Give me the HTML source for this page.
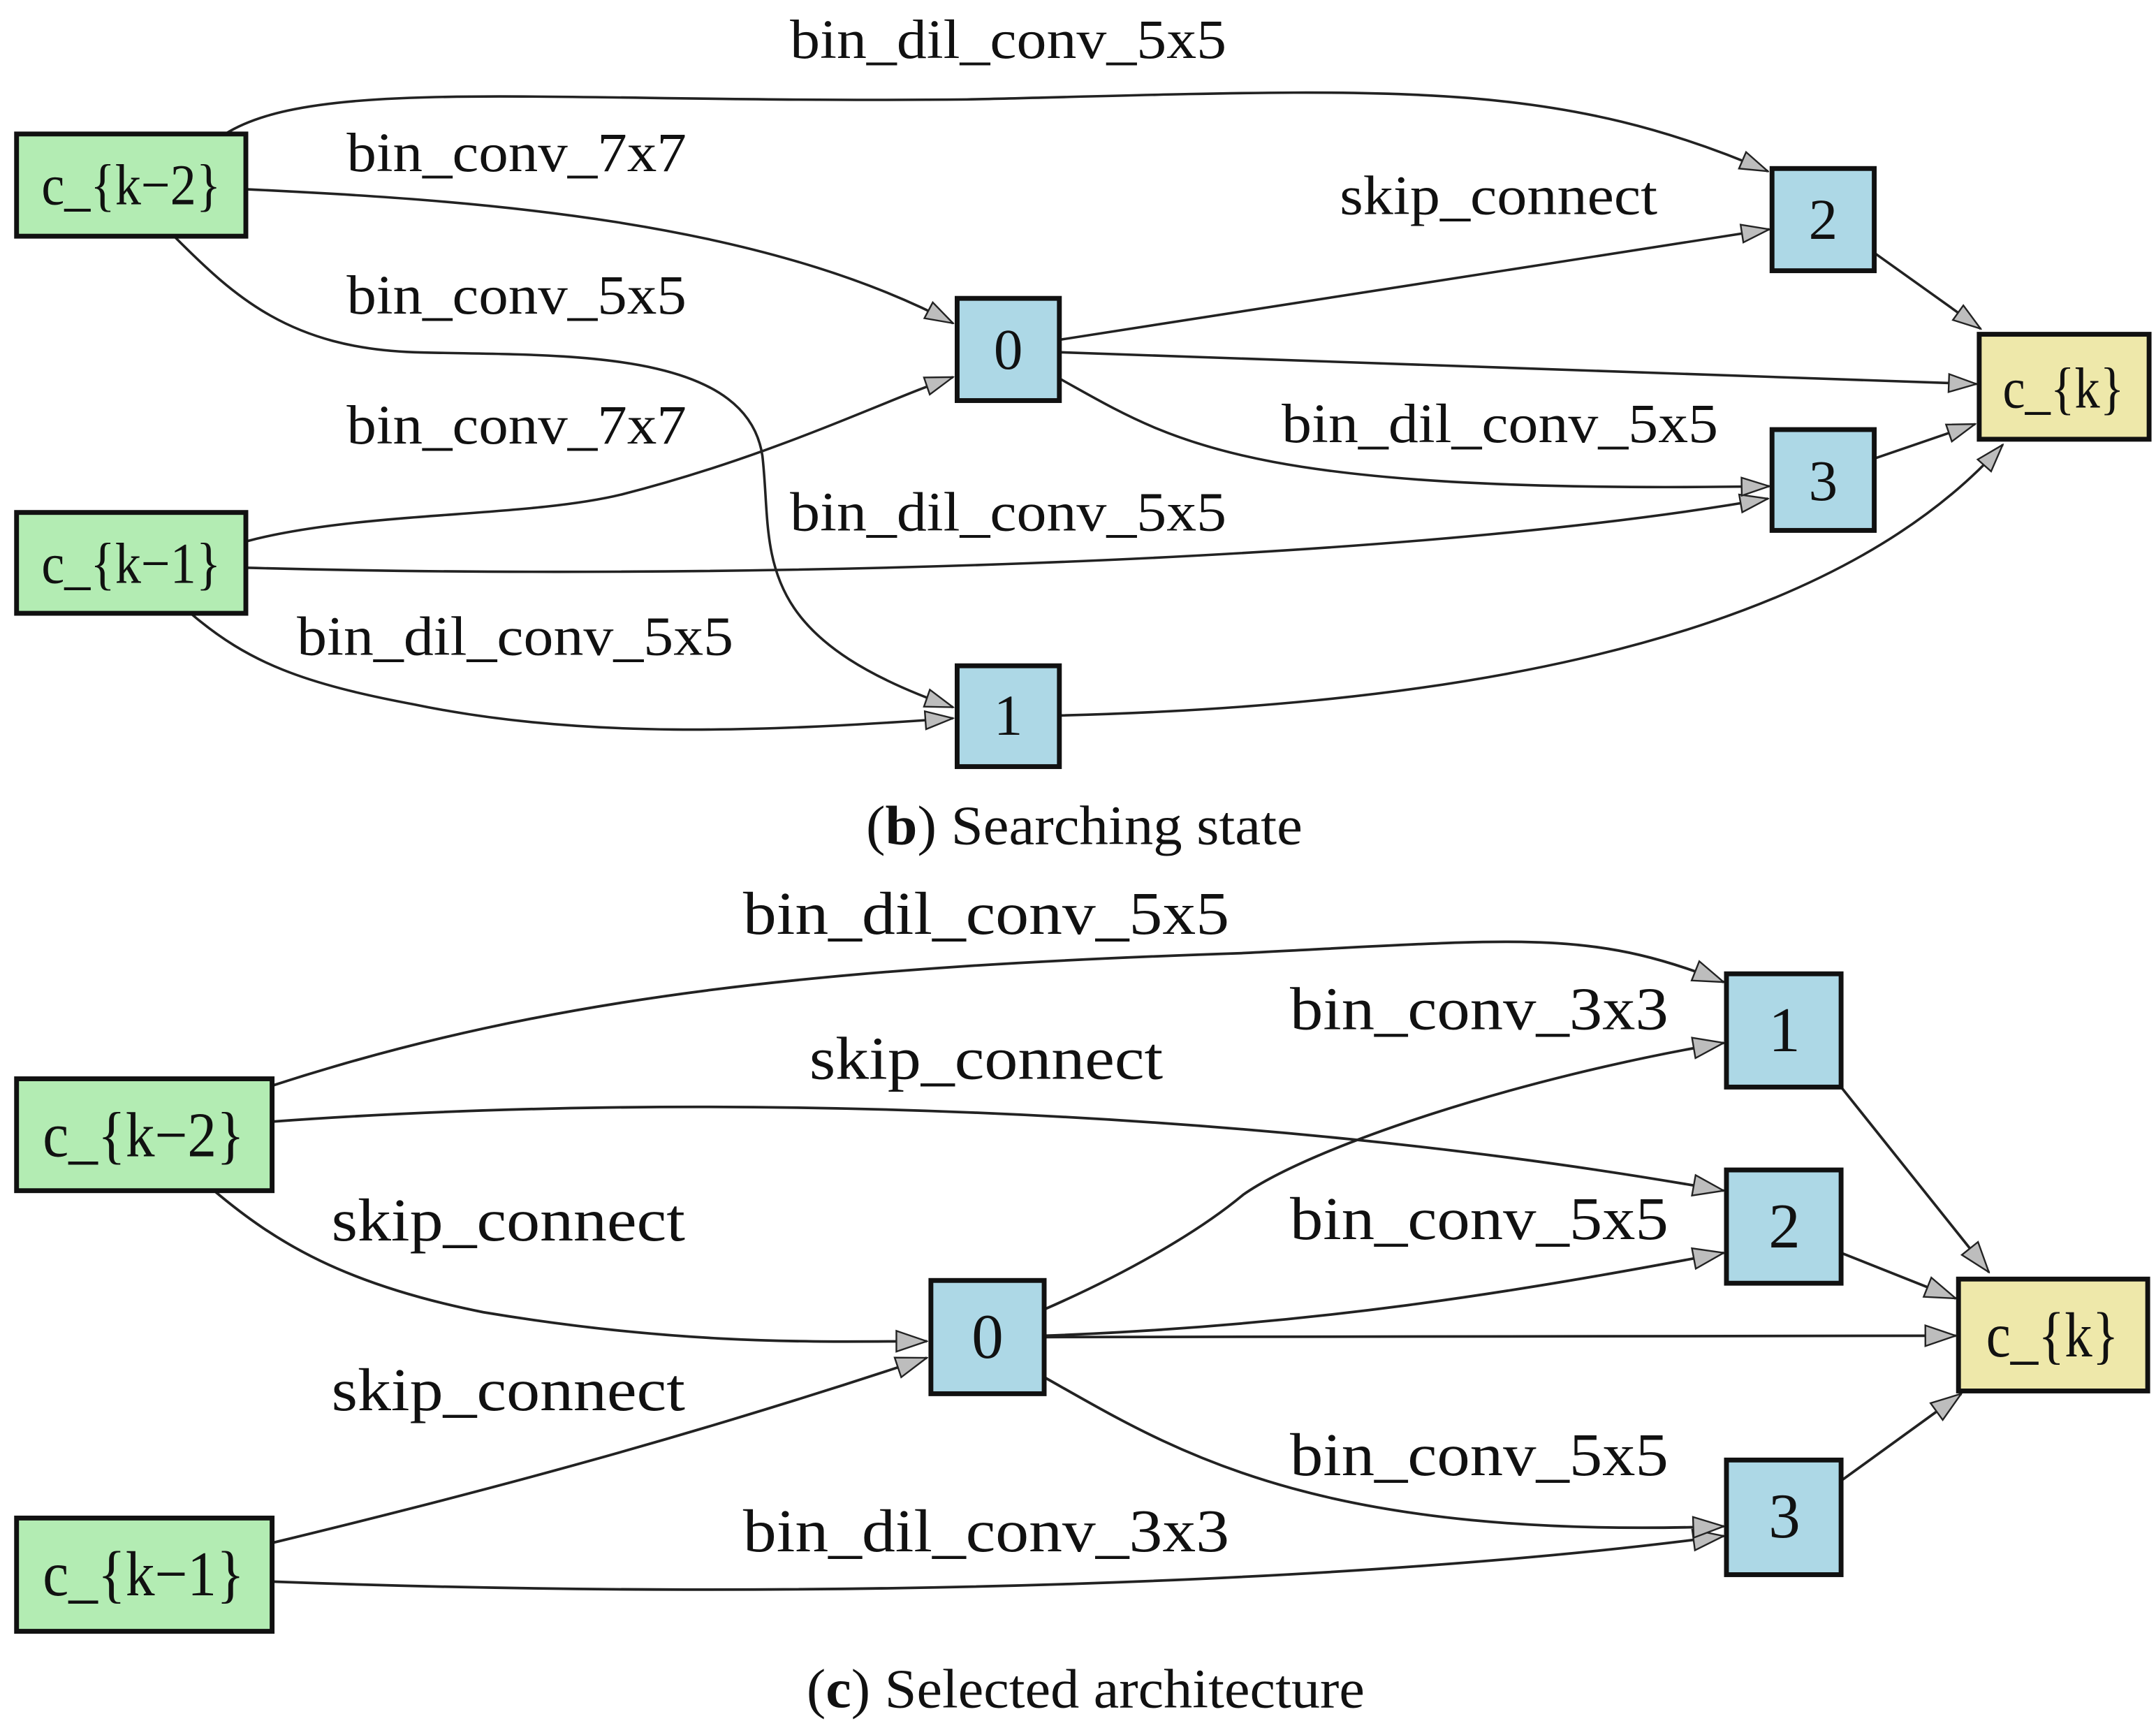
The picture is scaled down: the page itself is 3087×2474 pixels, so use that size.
<!DOCTYPE html>
<html><head><meta charset="utf-8"><style>
html,body{margin:0;padding:0;background:#fff;}
svg{display:block;}
text{font-family:"Liberation Serif",serif;fill:#111;}
</style></head><body>
<svg width="3087" height="2474" viewBox="0 0 1561 1251" preserveAspectRatio="none" xmlns="http://www.w3.org/2000/svg">
<defs>
<marker id="a" markerWidth="22" markerHeight="16" refX="21" refY="8" orient="auto" markerUnits="userSpaceOnUse">
<path d="M1,1.5 L21,8 L1,14.5 Z" fill="#bdbdbd" stroke="#222" stroke-width="1.2"/>
</marker>
<marker id="b" markerWidth="24" markerHeight="18" refX="23" refY="9" orient="auto" markerUnits="userSpaceOnUse">
<path d="M1,1.5 L23,9 L1,16.5 Z" fill="#bdbdbd" stroke="#222" stroke-width="1.2"/>
</marker>
</defs>

<!-- ===== (b) ===== -->
<g fill="none" stroke="#222" stroke-width="1.8" marker-end="url(#a)">
<path d="M163,97 C230,55 400,75 700,72 C1000,65 1120,55 1280,124"/>
<path d="M178,137 C350,145 550,160 690,234"/>
<path d="M127,172 C170,215 210,252 300,255 C400,258 540,250 552,330 C560,400 540,460 690,512"/>
<path d="M178,392 C260,370 380,375 450,358 C560,330 640,290 690,273"/>
<path d="M178,411 C500,420 1000,410 1280,361"/>
<path d="M138,444 C180,480 220,495 300,510 C420,535 550,530 690,520"/>
<path d="M767,246 L1281,166"/>
<path d="M767,255 L1431,278"/>
<path d="M767,274 C850,320 900,358 1281,352"/>
<path d="M1357,183 L1434,238"/>
<path d="M1357,332 L1430,307"/>
<path d="M767,518 C1000,512 1310,480 1450,322"/>
</g>
<g stroke="#111" stroke-width="3.5">
<rect x="12" y="97" width="166" height="74" fill="#b3ecb3"/>
<rect x="12" y="371" width="166" height="73" fill="#b3ecb3"/>
<rect x="693" y="216" width="74" height="74" fill="#add8e6"/>
<rect x="693" y="482" width="74" height="73" fill="#add8e6"/>
<rect x="1283" y="122" width="74" height="74" fill="#add8e6"/>
<rect x="1283" y="311" width="74" height="73" fill="#add8e6"/>
<rect x="1433" y="242" width="123" height="76" fill="#eee8aa"/>
</g>
<g font-size="42" text-anchor="middle">
<text x="95" y="148" textLength="130" lengthAdjust="spacingAndGlyphs">c_{k−2}</text>
<text x="95" y="422" textLength="130" lengthAdjust="spacingAndGlyphs">c_{k−1}</text>
<text x="730" y="267">0</text>
<text x="730" y="532">1</text>
<text x="1320" y="173">2</text>
<text x="1320" y="362">3</text>
<text x="1494" y="295" textLength="88" lengthAdjust="spacingAndGlyphs">c_{k}</text>
</g>
<g font-size="40">
<text x="572" y="42" textLength="316" lengthAdjust="spacingAndGlyphs">bin_dil_conv_5x5</text>
<text x="251" y="124" textLength="246" lengthAdjust="spacingAndGlyphs">bin_conv_7x7</text>
<text x="251" y="227" textLength="246" lengthAdjust="spacingAndGlyphs">bin_conv_5x5</text>
<text x="251" y="321" textLength="246" lengthAdjust="spacingAndGlyphs">bin_conv_7x7</text>
<text x="572" y="384" textLength="316" lengthAdjust="spacingAndGlyphs">bin_dil_conv_5x5</text>
<text x="215" y="474" textLength="316" lengthAdjust="spacingAndGlyphs">bin_dil_conv_5x5</text>
<text x="970" y="155" textLength="230" lengthAdjust="spacingAndGlyphs">skip_connect</text>
<text x="928" y="320" textLength="316" lengthAdjust="spacingAndGlyphs">bin_dil_conv_5x5</text>
</g>
<text x="627" y="611" font-size="40" textLength="316" lengthAdjust="spacingAndGlyphs">(<tspan font-weight="bold">b</tspan>) Searching state</text>

<!-- ===== (c) ===== -->
<g fill="none" stroke="#222" stroke-width="1.9" marker-end="url(#b)">
<path d="M197,786 C400,720 600,700 900,690 C1100,680 1150,672 1248,711"/>
<path d="M197,812 C500,790 900,800 1248,862"/>
<path d="M155,862 C200,900 250,930 350,950 C500,975 600,971 671,971"/>
<path d="M197,1117 C350,1080 500,1040 671,983"/>
<path d="M197,1145 C600,1160 1000,1145 1248,1112"/>
<path d="M756,948 C820,920 870,890 900,865 C950,830 1100,780 1248,755"/>
<path d="M756,967 C950,960 1100,935 1248,907"/>
<path d="M756,968 L1416,967"/>
<path d="M756,997 C850,1050 950,1115 1248,1105"/>
<path d="M1333,787 L1440,921"/>
<path d="M1333,907 L1416,940"/>
<path d="M1333,1072 L1420,1009"/>
</g>
<g stroke="#111" stroke-width="3.5">
<rect x="12" y="781" width="185" height="81" fill="#b3ecb3"/>
<rect x="12" y="1099" width="185" height="82" fill="#b3ecb3"/>
<rect x="674" y="927" width="82" height="82" fill="#add8e6"/>
<rect x="1250" y="705" width="83" height="82" fill="#add8e6"/>
<rect x="1250" y="847" width="83" height="82" fill="#add8e6"/>
<rect x="1250" y="1057" width="83" height="83" fill="#add8e6"/>
<rect x="1418" y="926" width="137" height="81" fill="#eee8aa"/>
</g>
<g font-size="46" text-anchor="middle">
<text x="104" y="837" textLength="146" lengthAdjust="spacingAndGlyphs">c_{k−2}</text>
<text x="104" y="1155" textLength="146" lengthAdjust="spacingAndGlyphs">c_{k−1}</text>
<text x="715" y="983">0</text>
<text x="1292" y="761">1</text>
<text x="1292" y="903">2</text>
<text x="1292" y="1113">3</text>
<text x="1486" y="982" textLength="96" lengthAdjust="spacingAndGlyphs">c_{k}</text>
</g>
<g font-size="44">
<text x="538" y="676" textLength="352" lengthAdjust="spacingAndGlyphs">bin_dil_conv_5x5</text>
<text x="586" y="781" textLength="256" lengthAdjust="spacingAndGlyphs">skip_connect</text>
<text x="240" y="898" textLength="256" lengthAdjust="spacingAndGlyphs">skip_connect</text>
<text x="240" y="1021" textLength="256" lengthAdjust="spacingAndGlyphs">skip_connect</text>
<text x="538" y="1123" textLength="352" lengthAdjust="spacingAndGlyphs">bin_dil_conv_3x3</text>
<text x="934" y="745" textLength="274" lengthAdjust="spacingAndGlyphs">bin_conv_3x3</text>
<text x="934" y="897" textLength="274" lengthAdjust="spacingAndGlyphs">bin_conv_5x5</text>
<text x="934" y="1068" textLength="274" lengthAdjust="spacingAndGlyphs">bin_conv_5x5</text>
</g>
<text x="584" y="1236" font-size="40" textLength="404" lengthAdjust="spacingAndGlyphs">(<tspan font-weight="bold">c</tspan>) Selected architecture</text>
</svg>
</body></html>
